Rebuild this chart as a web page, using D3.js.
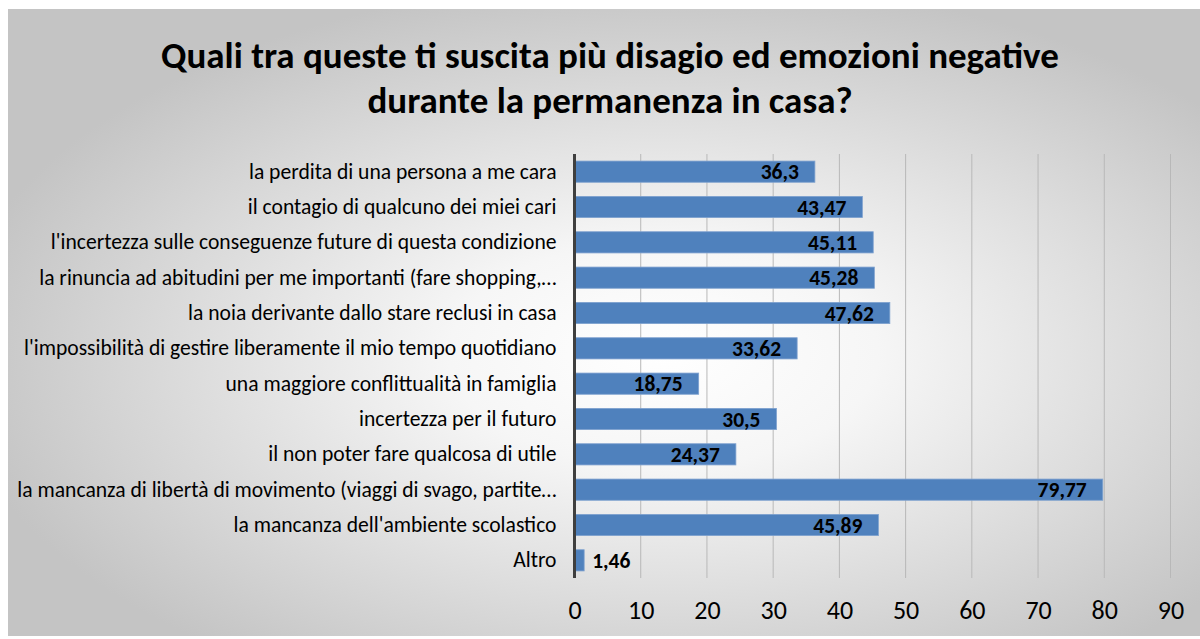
<!DOCTYPE html>
<html>
<head>
<meta charset="utf-8">
<script src="https://cdn.jsdelivr.net/npm/d3@7"></script>
<style>
  html, body { margin: 0; padding: 0; background: #fff; }
  svg { display: block; }
</style>
</head>
<body>
<svg id="chart" width="1200" height="639"></svg>
<script>
// data, top to bottom as in the chart
const categories = [
  "la perdita di una persona a me cara",
  "il contagio di qualcuno dei miei cari",
  "l'incertezza sulle conseguenze future di questa condizione",
  "la rinuncia ad abitudini per me importanti (fare shopping,…",
  "la noia derivante dallo stare reclusi in casa",
  "l'impossibilità di gestire liberamente il mio tempo quotidiano",
  "una maggiore conflittualità in famiglia",
  "incertezza per il futuro",
  "il non poter fare qualcosa di utile",
  "la mancanza di libertà di movimento (viaggi di svago, partite…",
  "la mancanza dell'ambiente scolastico",
  "Altro"
];
const values = [36.3, 43.47, 45.11, 45.28, 47.62, 33.62, 18.75, 30.5, 24.37, 79.77, 45.89, 1.46];
const xTicks = [0, 10, 20, 30, 40, 50, 60, 70, 80, 90];
const titleLines = [
  "Quali tra queste ti suscita più disagio ed emozioni negative",
  "durante la permanenza in casa?"
];

const width = 1200, height = 639;
const marginLeft = 574.5, marginRight = 29.5, marginTop = 154, marginBottom = 61;
const font = "Calibri, Carlito, 'Liberation Sans', Arial, sans-serif";

const svg = d3.select("#chart");

// background: radial grey gradient like the Excel chart area
const defs = svg.append("defs");
const grad = defs.append("radialGradient")
  .attr("id", "bg")
  .attr("cx", "0.55").attr("cy", "0.55").attr("r", "0.6");
grad.append("stop").attr("offset", "0").attr("stop-color", "#ffffff");
grad.append("stop").attr("offset", "0.3").attr("stop-color", "#f6f6f6");
grad.append("stop").attr("offset", "1").attr("stop-color", "#c4c4c4");

svg.append("rect")
  .attr("x", 8).attr("y", 9)
  .attr("width", width - 8).attr("height", height - 12)
  .attr("fill", "url(#bg)");

// scales
const x = d3.scaleLinear()
  .domain([0, 90])
  .range([marginLeft, width - marginRight]);

const y = d3.scaleBand()
  .domain(categories)
  .range([marginTop, height - marginBottom])
  .paddingInner(0.4)
  .paddingOuter(0.2);

// gridlines
svg.append("g")
  .selectAll("line")
  .data(xTicks.slice(1))
  .join("line")
  .attr("x1", d => x(d)).attr("x2", d => x(d))
  .attr("y1", marginTop).attr("y2", height - marginBottom)
  .attr("stroke", "#b8b8b8")
  .attr("stroke-width", 1);

// x axis labels (no axis line, Excel style)
const xAxis = svg.append("g")
  .attr("transform", `translate(0,${height - marginBottom})`)
  .call(d3.axisBottom(x).tickValues(xTicks).tickSize(0).tickPadding(23).tickFormat(d3.format("d")));
xAxis.select(".domain").remove();
xAxis.selectAll("text")
  .attr("font-family", font)
  .attr("font-size", 26)
  .attr("fill", "#000");

// bars
svg.append("g")
  .selectAll("rect")
  .data(values)
  .join("rect")
  .attr("x", x(0))
  .attr("y", (_, i) => y(categories[i]))
  .attr("width", d => x(d) - x(0))
  .attr("height", y.bandwidth())
  .attr("fill", "#4f81bd")
  .attr("stroke", "#7fa2cf")
  .attr("stroke-width", 0.8);

// value labels: inside end, outside when the bar is too short
svg.append("g")
  .selectAll("text")
  .data(values)
  .join("text")
  .attr("x", d => (x(d) - x(0) > 60 ? x(d) - 16 : x(d) + 8))
  .attr("y", (_, i) => y(categories[i]) + y.bandwidth() / 2)
  .attr("dy", "0.35em")
  .attr("text-anchor", d => (x(d) - x(0) > 60 ? "end" : "start"))
  .attr("font-family", font)
  .attr("font-size", 21.5)
  .attr("font-weight", "bold")
  .attr("fill", "#000")
  .text(d => String(d).replace(".", ","));

// category axis
const yAxis = svg.append("g")
  .attr("transform", `translate(${x(0)},0)`)
  .call(d3.axisLeft(y).tickSize(0).tickPadding(18));
yAxis.select(".domain").remove();
yAxis.selectAll("text")
  .attr("font-family", font)
  .attr("font-size", 21.6)
  .attr("fill", "#000");

svg.append("line")
  .attr("x1", x(0)).attr("x2", x(0))
  .attr("y1", marginTop).attr("y2", height - marginBottom)
  .attr("stroke", "#3f3f3f")
  .attr("stroke-width", 3);

// title
svg.append("g")
  .selectAll("text")
  .data(titleLines)
  .join("text")
  .attr("x", 610)
  .attr("y", (_, i) => 68 + i * 45)
  .attr("text-anchor", "middle")
  .attr("font-family", font)
  .attr("font-size", 37)
  .attr("font-weight", "bold")
  .attr("fill", "#000")
  .text(d => d);
</script>
</body>
</html>
